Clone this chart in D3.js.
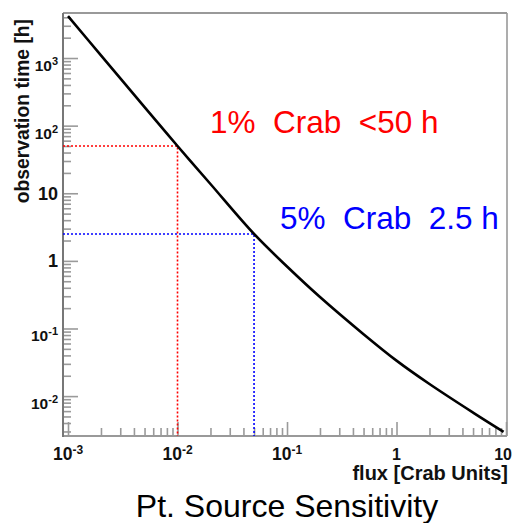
<!DOCTYPE html>
<html>
<head>
<meta charset="utf-8">
<script src="https://cdn.jsdelivr.net/npm/d3@7"></script>
<style>
  body { margin: 0; background: #fff; }
  svg { display: block; font-family: "Liberation Sans", Arial, sans-serif; }
</style>
</head>
<body>
<svg width="512" height="523"></svg>
<script>
let svg = d3.select("svg");

// sensitivity curve
let flux = [0.001, 0.002, 0.005, 0.01, 0.02, 0.05, 0.1, 0.2, 0.5, 1, 2, 5, 9.5];
let obsTime = [4170, 1094, 188, 50, 13.7, 2.5, 0.826, 0.292, 0.0824, 0.0335, 0.0151, 0.00571, 0.00296];

// marked points
let markFlux = [0.01, 0.05];
let markTime = [50, 2.5];
let markColor = ["#ff0000", "#0000ff"];
let markText = ["1%  Crab  <50 h", "5%  Crab  2.5 h"];

let xMajor = [1e-3, 1e-2, 1e-1, 1, 10];
let yMajor = [1e-2, 1e-1, 1, 10, 1e2, 1e3];

let fLeft = 63, fRight = 507, fTop = 13, fBottom = 436;

let x = d3.scaleLog()
    .domain([Math.pow(10, -3.0457), Math.pow(10, 1.009)])
    .range([fLeft, fRight]);
let y = d3.scaleLog()
    .domain([Math.pow(10, -2.59), Math.pow(10, 3.666)])
    .range([fBottom, fTop]);

let isMajor = v => Math.abs(Math.log10(v) - Math.round(Math.log10(v))) < 1e-9;
let xMinor = x.ticks().filter(v => !isMajor(v));
let yMinor = y.ticks().filter(v => !isMajor(v));

// ticks (inside the frame)
function styleAxis(g){
    g.select(".domain").remove();
    g.selectAll("line").attr("stroke", "#9a9a9a").attr("stroke-width", 1.6);
}
svg.append("g").attr("transform", `translate(${fLeft},0)`)
    .call(d3.axisRight(y).tickValues(yMajor).tickSize(15).tickFormat(""))
    .call(styleAxis);
svg.append("g").attr("transform", `translate(${fLeft},0)`)
    .call(d3.axisRight(y).tickValues(yMinor).tickSize(8).tickFormat(""))
    .call(styleAxis);
svg.append("g").attr("transform", `translate(0,${fBottom})`)
    .call(d3.axisTop(x).tickValues(xMajor).tickSize(14).tickFormat(""))
    .call(styleAxis);
svg.append("g").attr("transform", `translate(0,${fBottom})`)
    .call(d3.axisTop(x).tickValues(xMinor).tickSize(8).tickFormat(""))
    .call(styleAxis);

// frame
svg.append("line").attr("x1", fLeft).attr("x2", fRight).attr("y1", fTop).attr("y2", fTop)
    .attr("stroke", "#999").attr("stroke-width", 2);
svg.append("line").attr("x1", fRight).attr("x2", fRight).attr("y1", fTop).attr("y2", fBottom)
    .attr("stroke", "#999").attr("stroke-width", 1.6);
svg.append("line").attr("x1", fLeft).attr("x2", fRight).attr("y1", fBottom).attr("y2", fBottom)
    .attr("stroke", "#999").attr("stroke-width", 2);
svg.append("line").attr("x1", fLeft).attr("x2", fLeft).attr("y1", fTop).attr("y2", fBottom + 1)
    .attr("stroke", "#777").attr("stroke-width", 2);

// tick labels
function powLabel(sel, v, base, sup){
    let e = Math.round(Math.log10(v));
    if (e === 0 || e === 1){
        sel.style("font-size", base.plain + "px").text(e === 0 ? "1" : "10");
    } else {
        sel.style("font-size", base.exp + "px");
        sel.append("tspan").text("10");
        sel.append("tspan").attr("dy", -sup.dy).style("font-size", sup.size + "px").text(e);
    }
}
yMajor.forEach(v => {
    let e = Math.round(Math.log10(v));
    let t = svg.append("text")
        .attr("x", 58)
        .attr("y", y(v) + (e === 0 || e === 1 ? 6.5 : 13))
        .attr("text-anchor", "end")
        .attr("font-weight", "bold")
        .attr("fill", "#111");
    powLabel(t, v, {plain: 18, exp: 15.5}, {size: 11, dy: 6});
});
xMajor.forEach(v => {
    let last = v === 10;
    let t = svg.append("text")
        .attr("x", last ? 512 : x(v))
        .attr("y", 460)
        .attr("text-anchor", last ? "end" : "middle")
        .attr("font-weight", "bold")
        .attr("fill", "#111");
    powLabel(t, v, {plain: 16, exp: 17.5}, {size: 12, dy: 6});
});

// axis titles
svg.append("text")
    .attr("x", 508).attr("y", 480)
    .attr("text-anchor", "end")
    .attr("font-weight", "bold")
    .style("font-size", "20px")
    .attr("fill", "#111")
    .text("flux [Crab Units]");
svg.append("text")
    .attr("transform", "translate(29,19) rotate(-90)")
    .attr("text-anchor", "end")
    .attr("font-weight", "bold")
    .style("font-size", "19.3px")
    .attr("fill", "#111")
    .text("observation time [h]");

// dotted guide lines
markFlux.forEach((f, i) => {
    svg.append("path")
        .attr("d", `M${fLeft},${y(markTime[i])}H${x(f)}V${fBottom}`)
        .attr("fill", "none")
        .attr("stroke", markColor[i])
        .attr("stroke-width", 1.6)
        .attr("stroke-dasharray", "2,2");
});

// curve
let line = d3.line()
    .x((d, i) => x(flux[i]))
    .y((d, i) => y(obsTime[i]))
    .curve(d3.curveCatmullRom);
svg.append("path")
    .attr("d", line(flux))
    .attr("fill", "none")
    .attr("stroke", "#000")
    .attr("stroke-width", 2.6);

// annotations
let textX = [210, 280];
let textY = [133, 229];
markText.forEach((s, i) => {
    svg.append("text")
        .attr("x", textX[i]).attr("y", textY[i])
        .style("font-size", "31.5px")
        .style("white-space", "pre")
        .attr("fill", markColor[i])
        .text(s);
});

svg.append("text")
    .attr("x", 287).attr("y", 517)
    .attr("text-anchor", "middle")
    .style("font-size", "32px")
    .attr("fill", "#000")
    .text("Pt. Source Sensitivity");
</script>
</body>
</html>
